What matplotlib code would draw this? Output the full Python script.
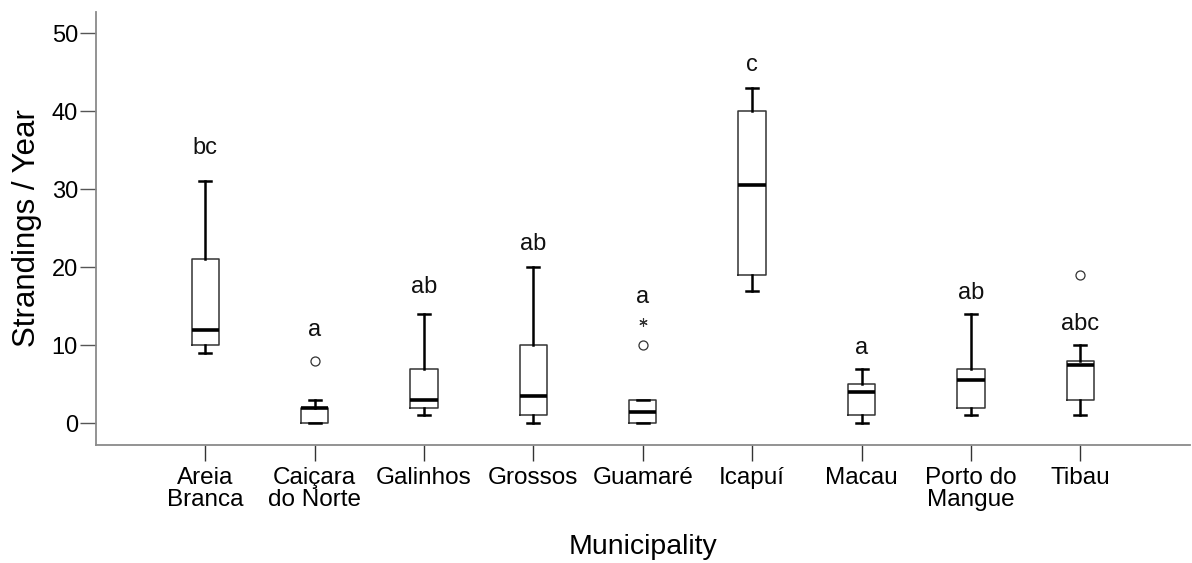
import matplotlib
matplotlib.use("Agg")
import matplotlib.pyplot as plt

plt.rcParams['font.family'] = ['Liberation Sans', 'DejaVu Sans']

# Boxplot summaries of yearly strandings per municipality
municipalities = ["Areia\nBranca", "Caiçara\ndo Norte", "Galinhos", "Grossos",
                  "Guamaré", "Icapuí", "Macau", "Porto do\nMangue", "Tibau"]
whisker_low = [9, 0, 1, 0, 0, 17, 0, 1, 1]
q1 = [10, 0, 2, 1, 0, 19, 1, 2, 3]
median = [12, 2, 3, 3.5, 1.5, 30.5, 4, 5.5, 7.5]
q3 = [21, 2, 7, 10, 3, 40, 5, 7, 8]
whisker_high = [31, 3, 14, 20, 3, 43, 7, 14, 10]
outliers = [[], [8], [], [], [10], [], [], [], [19]]
extremes = [[], [], [], [], [13], [], [], [], []]
group_letters = ["bc", "a", "ab", "ab", "a", "c", "a", "ab", "abc"]
yticks = [0, 10, 20, 30, 40, 50]

stats = []
for i, name in enumerate(municipalities):
    stats.append(dict(label=name, whislo=whisker_low[i], q1=q1[i], med=median[i],
                      q3=q3[i], whishi=whisker_high[i], fliers=outliers[i]))

fig = plt.figure(figsize=(11.92, 5.63), dpi=100)
ax = fig.add_axes([0.0805, 0.2096, 0.9175, 0.7691])

positions = list(range(len(municipalities)))
ax.bxp(stats, positions=positions, widths=0.25, showfliers=True,
       boxprops=dict(color="#333333", linewidth=1.1),
       whiskerprops=dict(color="black", linewidth=1.8),
       capprops=dict(color="black", linewidth=1.8),
       medianprops=dict(color="black", linewidth=2.6),
       flierprops=dict(marker="o", markersize=6.5, markerfacecolor="white",
                       markeredgecolor="#333333", markeredgewidth=0.9),
       capwidths=0.11)

for i, ext in enumerate(extremes):
    if ext:
        ax.plot([positions[i]] * len(ext), ext, linestyle="none", marker=(6, 2, 0),
                markersize=6, color="#333333", markeredgewidth=0.8)

# Letters marking homogeneous groups, set just above each group's highest mark
letter_offsets = [4.3, 4.0, 3.5, 3.0, 3.2, 2.9, 2.7, 2.7, 2.7]
for i, letters in enumerate(group_letters):
    top = max([whisker_high[i]] + extremes[i] + [o for o in outliers[i] if o < 15])
    ax.text(positions[i], top + letter_offsets[i], letters, ha="center", va="center",
            fontsize=17, color="#111111")

ax.set_xlim(-1, 9)
ax.set_ylim(-2.78, 52.7)
ax.set_yticks(yticks)
ax.set_xticks(positions)
ax.set_xticklabels(municipalities, fontsize=17.5, linespacing=1.0)
ax.tick_params(axis="y", labelsize=17, length=11.5, width=1.0, color="#555555", pad=1.5)
ax.tick_params(axis="x", length=11.5, width=1.0, color="#333333", pad=4)

for side in ["top", "right"]:
    ax.spines[side].set_visible(False)
for side in ["left", "bottom"]:
    ax.spines[side].set_color("#8a8a8a")
    ax.spines[side].set_linewidth(1.3)

ax.set_ylabel("Strandings / Year", fontsize=22.5, labelpad=7)
ax.set_xlabel("Municipality", fontsize=20.5, labelpad=17)

fig.savefig("out.png", dpi=100, facecolor="white")
